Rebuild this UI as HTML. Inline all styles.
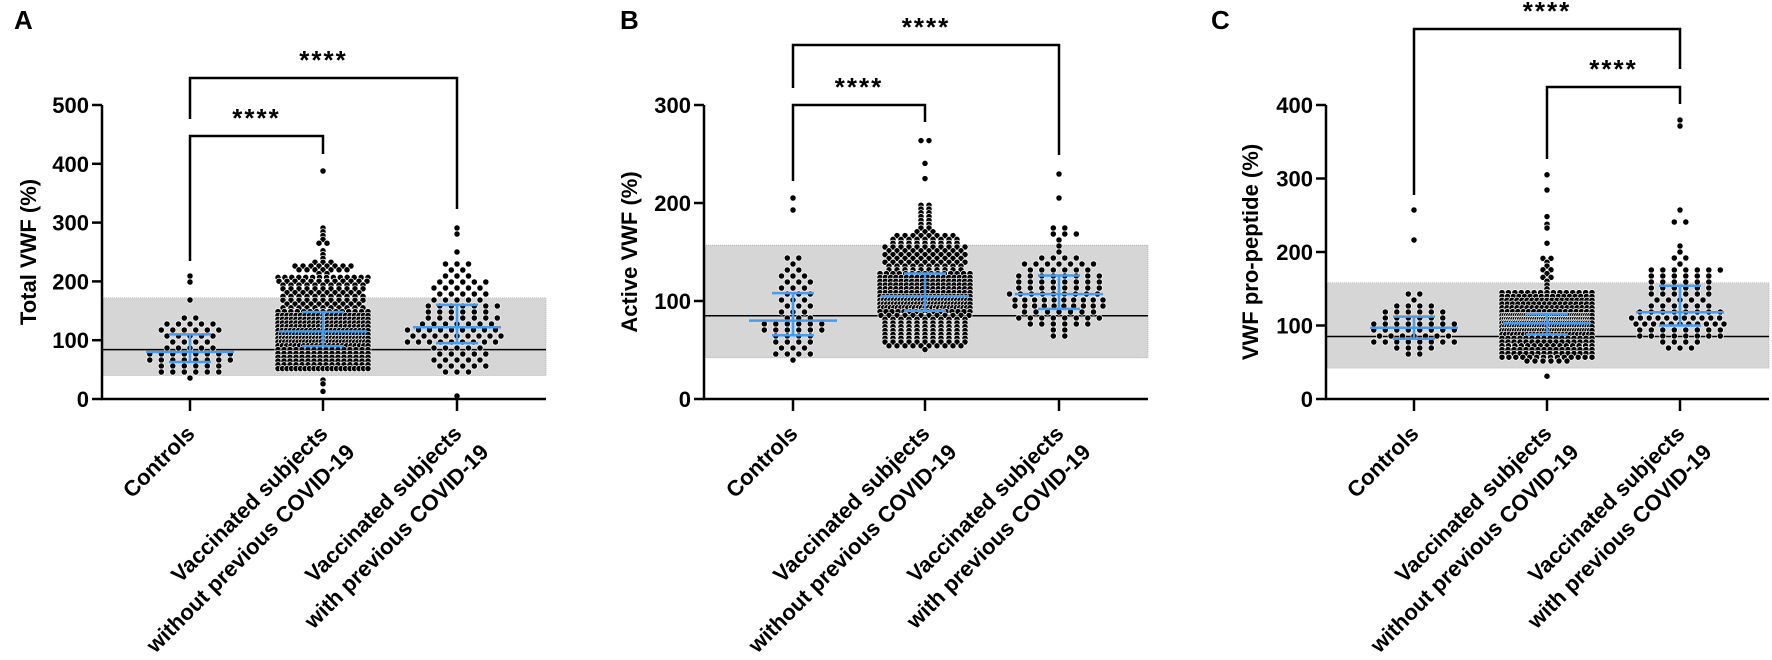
<!DOCTYPE html>
<html><head><meta charset="utf-8"><style>
html,body{margin:0;padding:0;background:#fff;}
svg{display:block;font-family:"Liberation Sans",Arial,sans-serif;}
</style></head><body>
<svg id="s" width="1772" height="660" viewBox="0 0 1772 660" xmlns="http://www.w3.org/2000/svg"></svg>
<script>
const S=document.getElementById('s');
let h='';
function qf(qs,p){const ps=[0,0.05,0.25,0.5,0.75,0.95,1];
 for(let i=1;i<ps.length;i++){if(p<=ps[i]){const t=(p-ps[i-1])/(ps[i]-ps[i-1]);return qs[i-1]+t*(qs[i]-qs[i-1]);}}return qs[6];}
function panel(P){
 const {ax,x1,y0,ytop,vmax,step,groups,band,line,title,letter,lx,brackets}=P;
 const sy=v=>y0-(v/vmax)*(y0-ytop);
 h+=`<rect x="${ax}" y="${sy(band[1])}" width="${x1-ax}" height="${sy(band[0])-sy(band[1])}" fill="#d6d6d6" stroke="#999" stroke-width="0.6" stroke-dasharray="1,1"/>`;
 h+=`<line x1="${ax}" x2="${x1}" y1="${sy(line)}" y2="${sy(line)}" stroke="#000" stroke-width="1.5"/>`;
 groups.forEach(g=>{
  let vals=[];
  for(let i=0;i<g.n;i++){vals.push(qf(g.qs,(i+0.5)/g.n));}
  vals=vals.concat(g.extra||[]);
  const bh=g.dense?3.8:6, sp0=g.dense?8:11.5;
  const rows={};
  vals.forEach(v=>{const y=sy(v);const k=Math.round(y/bh);(rows[k]=rows[k]||[]).push(y);});
  Object.keys(rows).forEach(k=>{
   const ys=rows[k];const n=ys.length;let sp=sp0;
   if((n-1)*sp>2*g.w) sp=2*g.w/(n-1);
   const off=(!g.dense && (k%2)&& n%2==1 && n>1)?sp/2:0;
   ys.forEach((y,i)=>{let x=g.x+(i-(n-1)/2)*sp+off; if(x>g.x+g.w)x-=sp*n;
    const yy=k*bh;
    h+=`<circle cx="${x.toFixed(1)}" cy="${yy.toFixed(1)}" r="3.1" fill="#000" stroke="#fff" stroke-width="0.7"/>`;});
  });
 });
 groups.forEach(g=>{
  const c='#4a9be8', med=g.qs[3],q1=g.qs[2],q3=g.qs[4];
  h+=`<line x1="${g.x-44}" x2="${g.x+44}" y1="${sy(med)}" y2="${sy(med)}" stroke="${c}" stroke-width="2.5"/>`;
  h+=`<line x1="${g.x-21}" x2="${g.x+21}" y1="${sy(q1)}" y2="${sy(q1)}" stroke="${c}" stroke-width="2.5"/>`;
  h+=`<line x1="${g.x-21}" x2="${g.x+21}" y1="${sy(q3)}" y2="${sy(q3)}" stroke="${c}" stroke-width="2.5"/>`;
  h+=`<line x1="${g.x}" x2="${g.x}" y1="${sy(q1)}" y2="${sy(q3)}" stroke="${c}" stroke-width="2.5"/>`;
 });
 h+=`<line x1="${ax}" x2="${ax}" y1="${ytop}" y2="${y0}" stroke="#000" stroke-width="2.5"/>`;
 h+=`<line x1="${ax-1}" x2="${x1}" y1="${y0}" y2="${y0}" stroke="#000" stroke-width="2.5"/>`;
 for(let v=0;v<=vmax;v+=step){const y=sy(v);
  h+=`<line x1="${ax-10}" x2="${ax}" y1="${y}" y2="${y}" stroke="#000" stroke-width="2.5"/>`;
  h+=`<text x="${ax-13}" y="${y+8}" font-size="22" font-weight="bold" text-anchor="end">${v}</text>`;}
 const labs=[["Controls"],["Vaccinated subjects","without previous COVID-19"],["Vaccinated subjects","with previous COVID-19"]];
 groups.forEach((g,i)=>{
  h+=`<line x1="${g.x}" x2="${g.x}" y1="${y0}" y2="${y0+12}" stroke="#000" stroke-width="2.5"/>`;
  const L=labs[i];
  h+=`<g transform="translate(${g.x+6},${y0+36}) rotate(-45)">`;
  L.forEach((t,j)=>{h+=`<text x="${j*6}" y="${j*32}" font-size="22" font-weight="bold" text-anchor="end">${t}</text>`;});
  h+=`</g>`;
 });
 h+=`<text transform="translate(${lx},${(ytop+y0)/2}) rotate(-90)" font-size="22" font-weight="bold" text-anchor="middle">${title}</text>`;
 h+=`<text x="${P.letx}" y="29" font-size="26" font-weight="bold">${letter}</text>`;
 brackets.forEach(b=>{
  h+=`<polyline points="${b.xa},${b.ya} ${b.xa},${b.t} ${b.xb},${b.t} ${b.xb},${b.yb}" fill="none" stroke="#000" stroke-width="2.5"/>`;
  h+=`<text x="${(b.xa+b.xb)/2}" y="${b.t-9}" font-size="26" font-weight="bold" text-anchor="middle" letter-spacing="2">****</text>`;
 });
}
function rng(a,b,n){const r=[];for(let i=0;i<n;i++)r.push(a+(b-a)*(i+0.5)/n);return r;}
panel({ax:102,x1:546,y0:399,ytop:105,vmax:500,step:100,band:[40,172],line:84,title:"Total VWF (%)",letter:"A",letx:14,lx:36,
 groups:[{x:190,qs:[38,45,63,80,110,130,140],n:56,w:44,extra:[203,205,170]},
  {x:323,dense:1,qs:[50,55,90,115,148,200,210],n:430,w:45,extra:rng(215,232,20).concat([240,245,255,262,268,270,280,285,290,388,10,28,32])},
  {x:457,qs:[42,55,95,122,160,200,210],n:100,w:44,extra:[215,222,225,228,232,245,283,295,5]}],
 brackets:[{xa:190,xb:457,t:78,ya:119,yb:209},{xa:190,xb:323,t:136,ya:261,yb:154}]});
panel({ax:704,x1:1148,y0:399,ytop:105,vmax:300,step:100,band:[42,157],line:85,title:"Active VWF (%)",letter:"B",letx:620,lx:637,
 groups:[{x:793,qs:[42,45,65,80,108,130,146],n:56,w:44,extra:[205,195,145]},
  {x:925,dense:1,qs:[52,60,90,105,128,160,170],n:430,w:45,extra:rng(172,200,14).concat([223,240,262,265])},
  {x:1059,qs:[63,75,92,107,126,145,175],n:100,w:44,extra:[168,170,172,203,232]}],
 brackets:[{xa:793,xb:1059,t:45,ya:88,yb:155},{xa:793,xb:925,t:105,ya:181,yb:122}]});
panel({ax:1326,x1:1769,y0:399,ytop:105,vmax:400,step:100,band:[42,158],line:85,title:"VWF pro-peptide (%)",letter:"C",letx:1211,lx:1258,
 groups:[{x:1414,qs:[55,70,82,97,112,130,150],n:56,w:44,extra:[255,213]},
  {x:1547,dense:1,qs:[52,60,88,103,116,140,147],n:430,w:45,extra:rng(150,195,12).concat([212,235,240,250,285,303,32])},
  {x:1680,qs:[65,80,100,118,154,180,210],n:100,w:44,extra:[237,240,255,368,378]}],
 brackets:[{xa:1414,xb:1680,t:29,ya:195,yb:69},{xa:1547,xb:1680,t:87,ya:159,yb:104}]});
S.innerHTML=h;
</script>
</body></html>
